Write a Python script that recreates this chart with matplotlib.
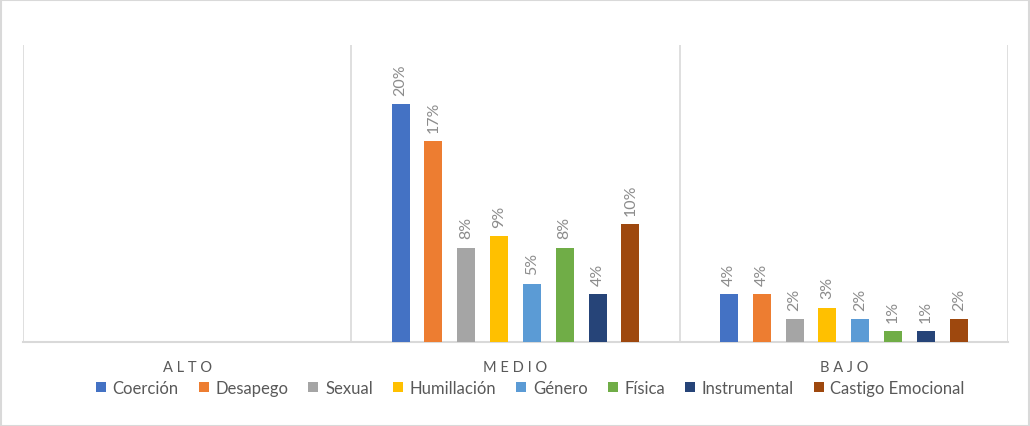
import numpy as np
import matplotlib.pyplot as plt
from matplotlib.patches import Rectangle

# Data (fractions)
categories = ["ALTO", "MEDIO", "BAJO"]
series_names = ["Coerción", "Desapego", "Sexual", "Humillación",
                "Género", "Física", "Instrumental", "Castigo Emocional"]
values = [
    [None, 0.200, 0.040],
    [None, 0.169, 0.040],
    [None, 0.079, 0.019],
    [None, 0.089, 0.029],
    [None, 0.049, 0.019],
    [None, 0.079, 0.009],
    [None, 0.040, 0.009],
    [None, 0.099, 0.019],
]
colors = ["#4472C4", "#ED7D31", "#A5A5A5", "#FFC000",
          "#5B9BD5", "#70AD47", "#264478", "#9E480E"]

plt.rcParams['font.family'] = ['Lato', 'DejaVu Sans']

fig = plt.figure(figsize=(10.30, 4.27), dpi=100)
ax = fig.add_axes([0.0223, 0.1967, 0.9563, 0.6956])

x = np.arange(len(categories))
step = 0.1
width = 0.055
n = len(series_names)
for i, (name, vals, c) in enumerate(zip(series_names, values, colors)):
    offs = (i - (n - 1) / 2) * step
    xs = [xi + offs for xi, v in zip(x, vals) if v is not None]
    hs = [v for v in vals if v is not None]
    ax.bar(xs, hs, width=width, color=c, label=name, zorder=3)
    for xx, hh in zip(xs, hs):
        ax.annotate(f"{hh * 100:.0f}%", (xx, hh), xytext=(0, 7),
                    textcoords="offset points", rotation=90,
                    ha="center", va="bottom", color="#8c8c8c", fontsize=11.5)

ax.set_xlim(-0.5, 2.5)
ax.set_ylim(0, 0.25)
ax.set_yticks([])
ax.set_xticks(x)
ax.set_xticklabels([" ".join(c) for c in categories], color="#595959", fontsize=10.5)
ax.tick_params(axis="x", length=0, pad=13)
for s in ["top", "right", "left"]:
    ax.spines[s].set_visible(False)
ax.spines["bottom"].set_color("#d9d9d9")
ax.spines["bottom"].set_linewidth(1.5)
for b in [-0.5, 0.5, 1.5, 2.5]:
    ax.axvline(b, color="#d9d9d9", linewidth=1.2, zorder=1)

leg = fig.legend(loc="center", bbox_to_anchor=(0.515, 0.089), ncol=8,
                 frameon=False, fontsize=12, handlelength=0.6, handleheight=0.6,
                 handletextpad=0.4, columnspacing=1.2)
for t in leg.get_texts():
    t.set_color("#595959")

fig.patches.append(Rectangle((0.001, 0.001), 0.998, 0.997, transform=fig.transFigure,
                             fill=False, edgecolor="#d9d9d9", linewidth=1.5))

fig.savefig("out.png", dpi=100)
